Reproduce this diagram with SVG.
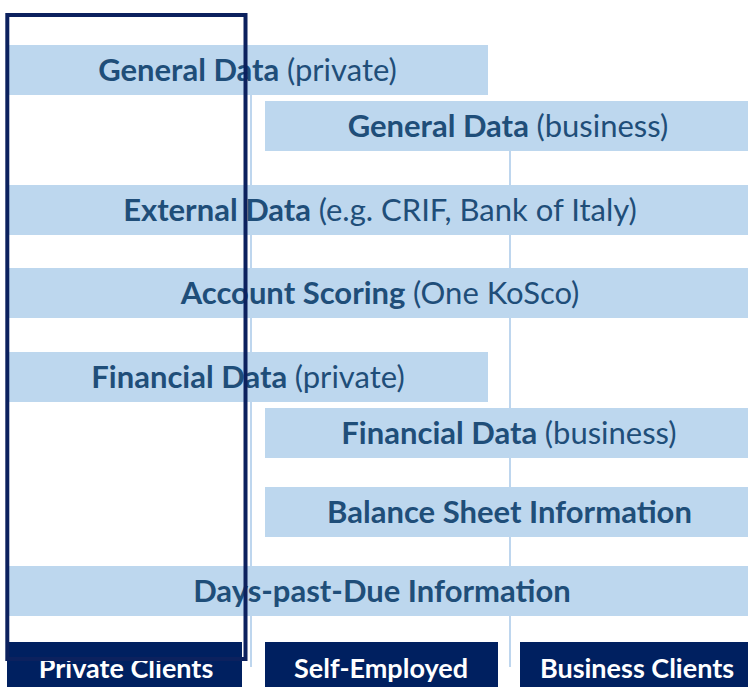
<svg xmlns="http://www.w3.org/2000/svg" width="748" height="687" viewBox="0 0 748 687">
<style>
.bar{fill:#BDD7EE}
.lbl{font-family:Lato,"Open Sans","Liberation Sans",sans-serif;font-size:31px;font-weight:bold;fill:#1F4E79;text-anchor:middle}
.lbl tspan.n{font-weight:normal}
.box{fill:#002060}
.blbl{font-family:Lato,"Open Sans","Liberation Sans",sans-serif;font-size:27px;font-weight:bold;fill:#FFFFFF;text-anchor:middle}
.grid{stroke:#A9C8E8;stroke-width:1.5;fill:none}
.frame{fill:none;stroke:#0C215E;stroke-width:4}
</style>
<g id="connectors">
<line class="grid" x1="251" y1="95" x2="251" y2="667"/>
<line class="grid" x1="510" y1="151" x2="510" y2="667"/>
</g>
<g id="general-private"><rect class="bar" x="7" y="45" width="481" height="50"/><text class="lbl" x="247.5" y="81">General Data <tspan class="n">(private)</tspan></text></g>
<g id="general-business"><rect class="bar" x="265" y="101" width="483" height="50"/><text class="lbl" x="508" y="137">General Data <tspan class="n">(business)</tspan></text></g>
<g id="external"><rect class="bar" x="7" y="185" width="741" height="50"/><text class="lbl" x="380" y="221">External Data <tspan class="n">(e.g. CRIF, Bank of Italy)</tspan></text></g>
<g id="account-scoring"><rect class="bar" x="7" y="268" width="741" height="50"/><text class="lbl" x="380" y="304">Account Scoring <tspan class="n">(One KoSco)</tspan></text></g>
<g id="financial-private"><rect class="bar" x="7" y="352" width="481" height="50"/><text class="lbl" x="248" y="388">Financial Data <tspan class="n">(private)</tspan></text></g>
<g id="financial-business"><rect class="bar" x="265" y="408" width="483" height="50"/><text class="lbl" x="509" y="444">Financial Data <tspan class="n">(business)</tspan></text></g>
<g id="balance-sheet"><rect class="bar" x="265" y="487" width="483" height="50"/><text class="lbl" x="509.5" y="523">Balance Sheet Information</text></g>
<g id="days-past-due"><rect class="bar" x="7" y="566" width="741" height="50"/><text class="lbl" x="382" y="602">Days-past-Due Information</text></g>
<g id="private-clients"><rect class="box" x="7" y="642" width="235" height="45"/><text class="blbl" x="126" y="678">Private Clients</text></g>
<g id="self-employed"><rect class="box" x="265" y="642" width="233" height="45"/><text class="blbl" x="381" y="678">Self-Employed</text></g>
<g id="business-clients"><rect class="box" x="520" y="642" width="228" height="45"/><text class="blbl" x="637" y="678">Business Clients</text></g>
<g id="private-frame"><rect class="frame" x="7.3" y="15" width="238.2" height="644"/></g>
</svg>
